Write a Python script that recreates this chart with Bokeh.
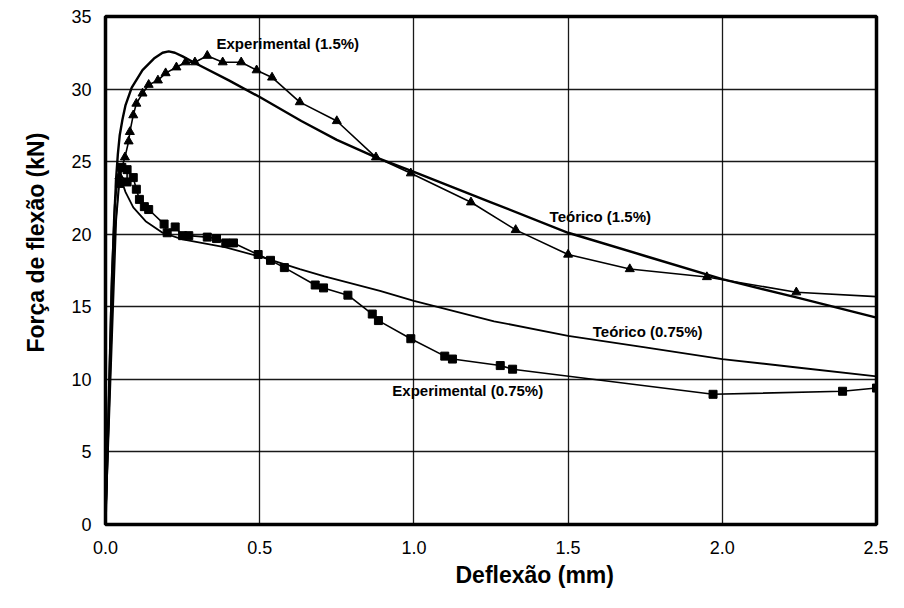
from bokeh.plotting import figure
from bokeh.models import FixedTicker, NumeralTickFormatter, Label, Title
from bokeh.embed import file_html
from bokeh.resources import INLINE

# Teórico (1.5%)
teo15_x = [0.0, 0.01, 0.02, 0.028, 0.035, 0.04, 0.046, 0.055, 0.065, 0.085, 0.12, 0.157, 0.185, 0.205, 0.225,
           0.25, 0.29, 0.4, 0.5, 0.635, 0.75, 0.877, 1.0, 1.25, 1.5, 1.75, 2.0, 2.25, 2.5]
teo15_y = [0.0, 8.0, 16.0, 21.0, 24.0, 25.5, 26.8, 27.9, 28.9, 30.1, 31.3, 32.1, 32.5, 32.6, 32.5,
           32.25, 31.8, 30.6, 29.45, 27.8, 26.5, 25.3, 24.3, 22.2, 20.1, 18.5, 16.9, 15.6, 14.25]

# Teórico (0.75%)
teo075_x = [0.0, 0.01, 0.02, 0.03, 0.04, 0.05, 0.065, 0.09, 0.13, 0.185, 0.25, 0.39, 0.51, 0.63, 0.71,
            0.89, 1.0, 1.26, 1.5, 1.75, 2.0, 2.25, 2.5]
teo075_y = [0.0, 8.0, 17.0, 22.0, 24.0, 23.8, 22.9, 21.85, 20.9, 20.1, 19.65, 19.1, 18.4, 17.6, 17.1,
            16.1, 15.4, 14.0, 13.0, 12.2, 11.4, 10.8, 10.2]

# Experimental (1.5%)
exp15_x = [0.0, 0.015, 0.03, 0.045, 0.063, 0.075, 0.079, 0.09, 0.1, 0.12, 0.14, 0.17, 0.195, 0.23, 0.26,
           0.29, 0.33, 0.38, 0.44, 0.49, 0.54, 0.63, 0.75, 0.877, 0.99, 1.185, 1.33, 1.5, 1.70, 1.95,
           2.24, 2.5]
exp15_y = [0.0, 10.0, 20.0, 24.0, 25.3, 26.4, 27.05, 28.2, 29.0, 29.7, 30.3, 30.6, 31.1, 31.5, 31.85,
           31.85, 32.3, 31.85, 31.85, 31.3, 30.8, 29.1, 27.8, 25.3, 24.2, 22.2, 20.3, 18.6, 17.6, 17.05,
           16.0, 15.7]

# Experimental (0.75%)
exp075_x = [0.0, 0.02, 0.035, 0.045, 0.053, 0.07, 0.07, 0.09, 0.1, 0.11, 0.126, 0.14, 0.19, 0.2, 0.226,
            0.25, 0.27, 0.33, 0.36, 0.39, 0.415, 0.495, 0.535, 0.58, 0.68, 0.707, 0.786, 0.865, 0.885,
            0.99, 1.1, 1.125, 1.28, 1.32, 1.97, 2.39, 2.5]
exp075_y = [0.0, 12.0, 21.0, 23.5, 24.6, 24.45, 23.6, 23.9, 23.1, 22.4, 21.9, 21.7, 20.7, 20.1, 20.5,
            19.9, 19.9, 19.8, 19.7, 19.4, 19.4, 18.6, 18.2, 17.7, 16.5, 16.3, 15.8, 14.5, 14.05,
            12.8, 11.6, 11.4, 10.95, 10.7, 8.97, 9.18, 9.4]

x_ticks = [0.0, 0.5, 1.0, 1.5, 2.0, 2.5]
y_ticks = [0, 5, 10, 15, 20, 25, 30, 35]

labels = [
    ("Experimental (1.5%)", 0.36, 33.15),
    ("Teórico (1.5%)", 1.44, 21.2),
    ("Teórico (0.75%)", 1.58, 13.3),
    ("Experimental (0.75%)", 0.93, 9.2),
]

x_title = "Deflexão (mm)"
y_title = "Força de flexão (kN)"

FONT = "Liberation Sans"

p = figure(width=888, height=592, output_backend="svg", toolbar_location=None,
           x_range=(0, 2.5), y_range=(0, 35),
           min_border_left=96, min_border_right=12, min_border_top=16, min_border_bottom=68)

p.background_fill_color = "white"
p.border_fill_color = "white"
p.outline_line_color = "black"
p.outline_line_width = 3.5

p.xaxis.ticker = FixedTicker(ticks=x_ticks)
p.yaxis.ticker = FixedTicker(ticks=y_ticks)
p.xaxis.formatter = NumeralTickFormatter(format="0.0")
p.yaxis.formatter = NumeralTickFormatter(format="0")

for ax in (p.xaxis[0], p.yaxis[0]):
    ax.axis_line_color = None
    ax.major_tick_line_color = None
    ax.minor_tick_line_color = None
    ax.major_label_text_font = FONT
    ax.major_label_text_font_size = "18px"
    ax.major_label_text_color = "black"

p.xaxis.major_label_standoff = 10
p.yaxis.major_label_standoff = 8

p.grid.grid_line_color = "black"
p.grid.grid_line_width = 1.3
p.grid.grid_line_alpha = 0.9

# theoretical curves
p.line(teo15_x, teo15_y, line_color="black", line_width=2.4)
p.line(teo075_x, teo075_y, line_color="black", line_width=1.8)

# experimental curves
p.line(exp15_x, exp15_y, line_color="black", line_width=1.6)
p.scatter(exp15_x[3:-1], exp15_y[3:-1], marker="triangle", size=9, color="black")

p.line(exp075_x, exp075_y, line_color="black", line_width=1.6)
p.scatter(exp075_x[3:], exp075_y[3:], marker="square", size=8, color="black")

for txt, lx, ly in labels:
    p.add_layout(Label(x=lx, y=ly, text=txt, text_font=FONT, text_font_size="15px",
                       text_font_style="bold", text_color="black", text_baseline="middle"))

# axis titles (placed off-centre, as in the original)
p.add_layout(Title(text=x_title, align="left", offset=350, standoff=6, text_font=FONT,
                   text_font_size="23px", text_font_style="bold", text_color="black"), "below")
p.add_layout(Title(text=y_title, align="left", offset=172, standoff=40, text_font=FONT,
                   text_font_size="23px", text_font_style="bold", text_color="black"), "left")

open("out.html", "w").write(file_html(p, INLINE))
